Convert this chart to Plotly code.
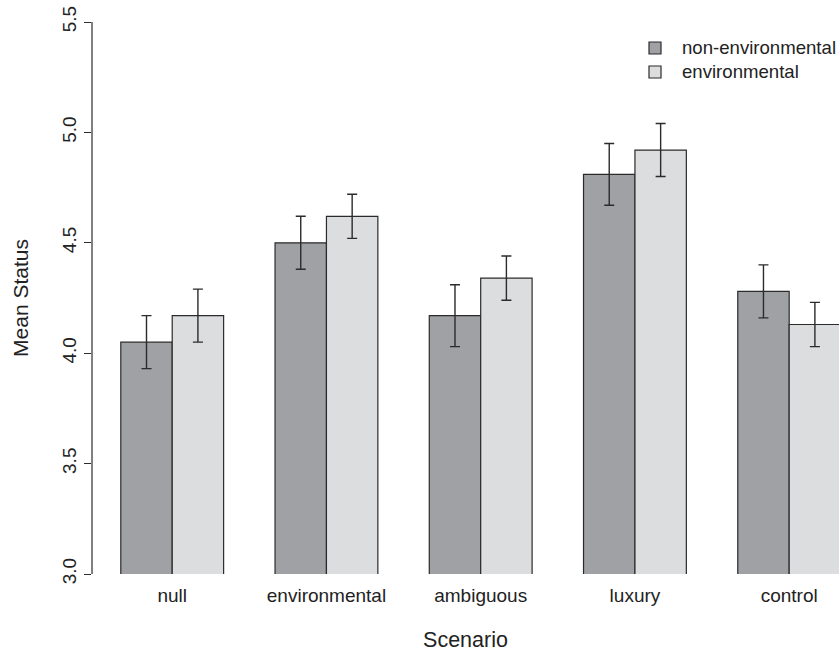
import plotly.graph_objects as go

categories = ["null", "environmental", "ambiguous", "luxury", "control"]
non_env = [4.05, 4.50, 4.17, 4.81, 4.28]
env = [4.17, 4.62, 4.34, 4.92, 4.13]
non_env_err = [0.12, 0.12, 0.14, 0.14, 0.12]
env_err = [0.12, 0.10, 0.10, 0.12, 0.10]
y_ticks = [3.0, 3.5, 4.0, 4.5, 5.0, 5.5]
series_names = ["non-environmental", "environmental"]
series_colors = ["#a0a1a4", "#dcdddf"]

FONT = "Liberation Sans, Arial, Helvetica, sans-serif"
TXT = "#222222"
EDGE = "#2b2b2b"

W, H = 839, 655
ML, MR, MT, MB = 92, 0, 22, 81
PW, PH = W - ML - MR, H - MT - MB

fig = go.Figure()
for name, vals, errs, col in zip(series_names, [non_env, env],
                                 [non_env_err, env_err], series_colors):
    fig.add_trace(go.Bar(
        x=categories, y=vals, name=name, showlegend=False,
        marker=dict(color=col, line=dict(color=EDGE, width=1.2)),
        error_y=dict(type="data", array=errs, visible=True,
                     color=EDGE, thickness=1.4, width=5),
    ))

fig.update_layout(
    width=W, height=H,
    margin=dict(l=ML, r=MR, t=MT, b=MB, pad=0),
    paper_bgcolor="white", plot_bgcolor="white",
    barmode="group", bargap=1/3, bargroupgap=0,
    font=dict(family=FONT, size=19, color=TXT),
    showlegend=False,
    xaxis=dict(range=[-0.52, 4.323], showline=False, showgrid=False,
               zeroline=False, ticks="", ticklabelstandoff=8,
               title=dict(text="Scenario", standoff=26,
                          font=dict(size=21.5, color=TXT)),
               tickfont=dict(size=19, color=TXT)),
    yaxis=dict(range=[3.0, 5.5], showline=False, showgrid=False,
               zeroline=False, ticks="outside", ticklen=7, tickwidth=1,
               tickcolor=EDGE, tickvals=y_ticks,
               ticktext=[f"{v:.1f}" for v in y_ticks],
               tickangle=-90, tickfont=dict(size=19, color=TXT),
               title=dict(text="Mean Status", standoff=25,
                          font=dict(size=21, color=TXT))),
)
fig.add_shape(type="line", xref="paper", yref="y", x0=0, x1=0,
              y0=y_ticks[0], y1=y_ticks[-1],
              line=dict(color=EDGE, width=1.2))


def px_x(px):
    return (px - ML) / PW


def px_y(py):
    return 1 - (py - MT) / PH


for i, (name, col) in enumerate(zip(series_names, series_colors)):
    cy = 48 + 24 * i
    cx = 655
    fig.add_shape(type="rect", xref="paper", yref="paper",
                  x0=px_x(cx - 6), x1=px_x(cx + 6),
                  y0=px_y(cy + 6), y1=px_y(cy - 6),
                  fillcolor=col, line=dict(color=EDGE, width=1.2))
    fig.add_annotation(xref="paper", yref="paper", x=px_x(680), y=px_y(cy),
                       xanchor="left", yanchor="middle", showarrow=False,
                       text=name, font=dict(size=18.6, color=TXT))

fig.write_html(
    "out.html",
    config={"displayModeBar": False},
    post_script=("document.body.style.margin='0';"
                 "document.body.style.overflow='hidden';"
                 "document.documentElement.style.overflow='hidden';"),
)
